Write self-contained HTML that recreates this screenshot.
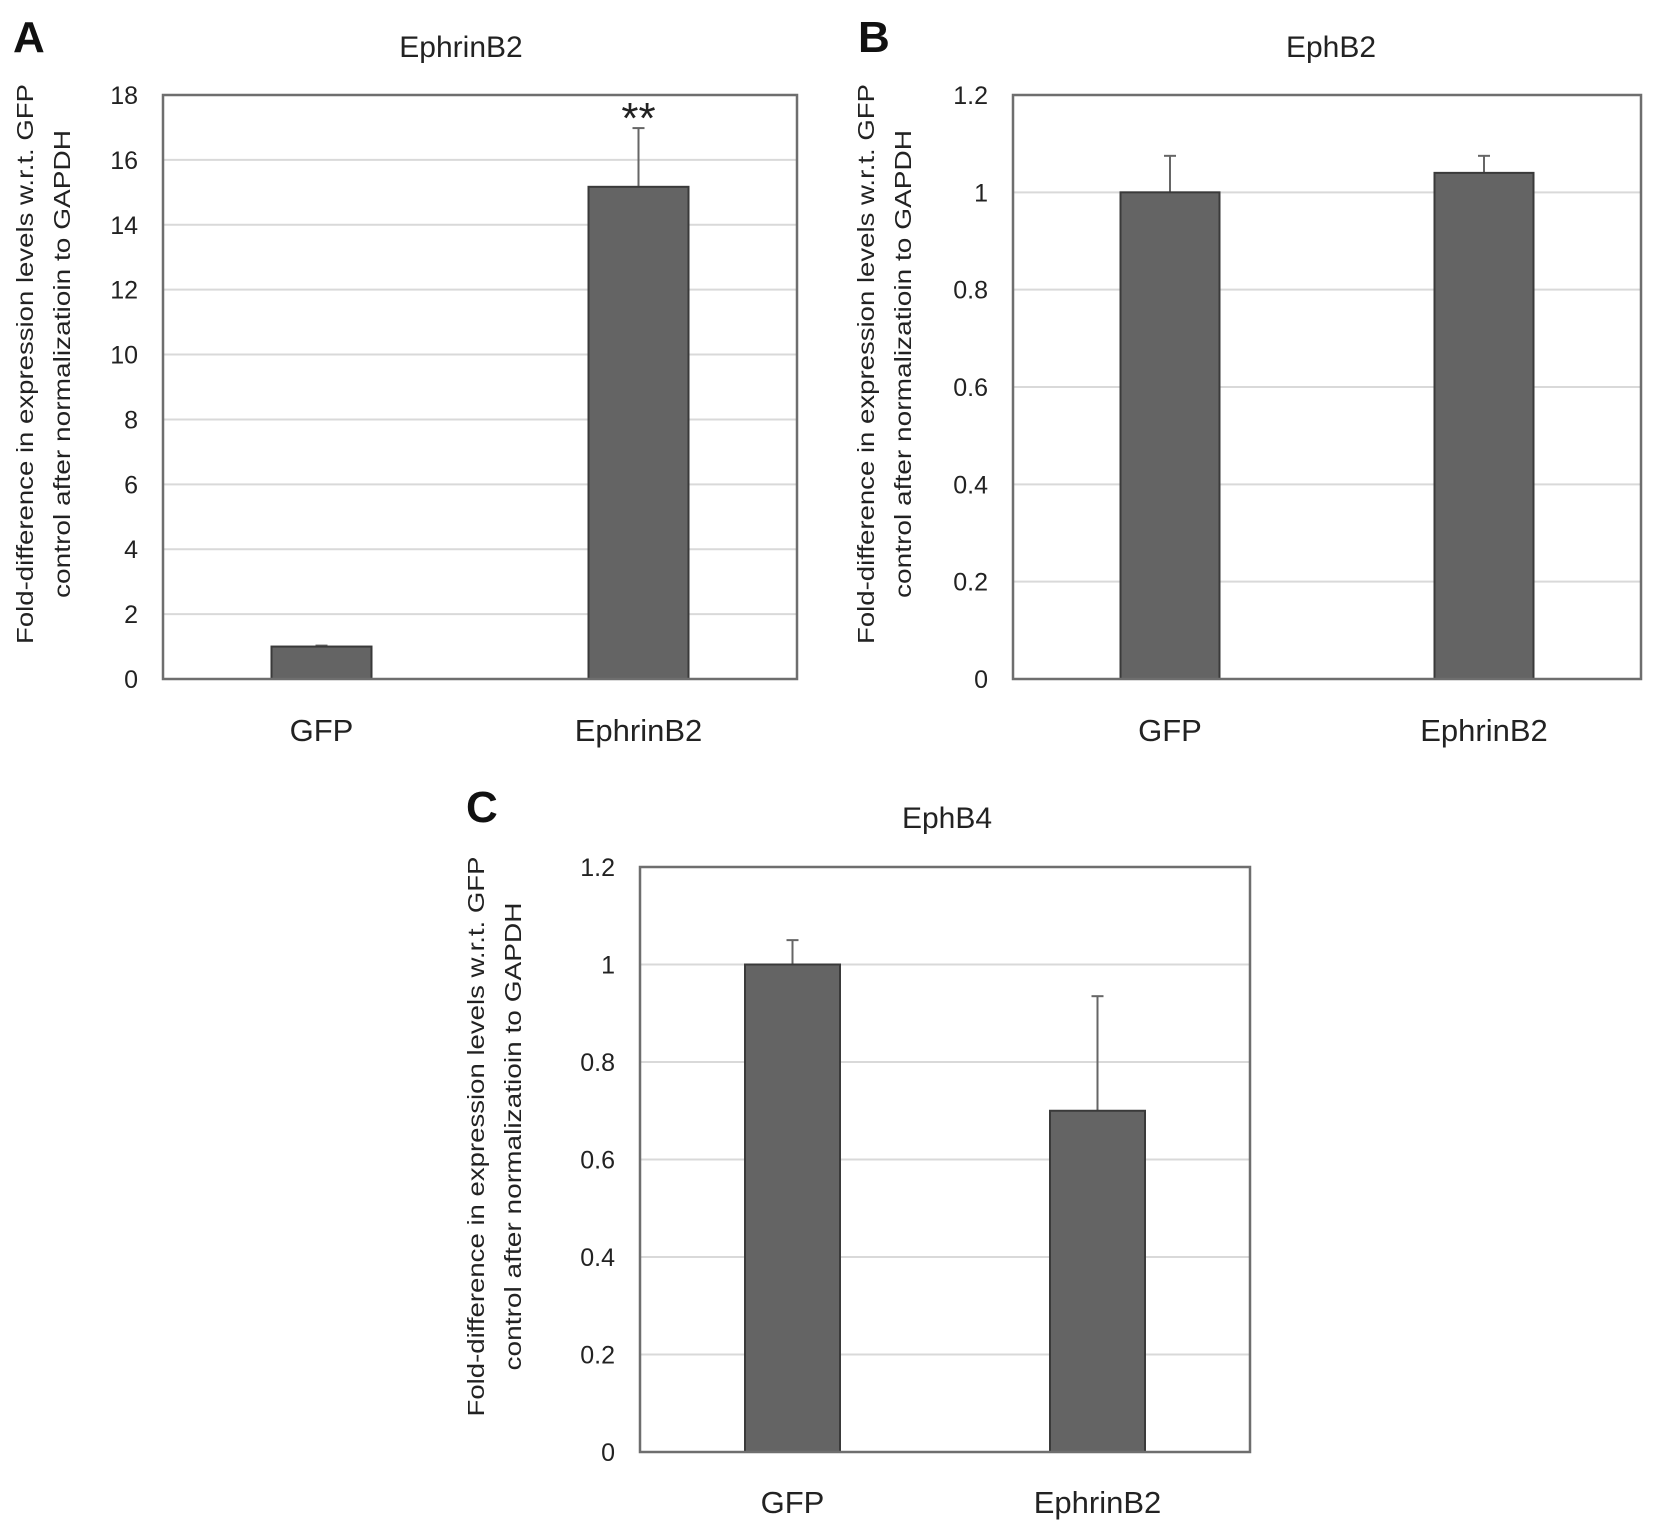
<!DOCTYPE html>
<html><head><meta charset="utf-8"><style>
html,body{margin:0;padding:0;background:#fff;}
svg{display:block;font-family:"Liberation Sans","DejaVu Sans",sans-serif;}
</style></head><body>
<svg id="fig" width="1654" height="1535" viewBox="0 0 1654 1535" xmlns="http://www.w3.org/2000/svg"></svg>
<script>
const categories = ["GFP", "EphrinB2"];
const valuesA = [1.0, 15.17];
const errorsA = [0.03, 1.81];
const ticksA = ["0","2","4","6","8","10","12","14","16","18"];
const valuesB = [1.0, 1.04];
const errorsB = [0.075, 0.035];
const ticksB = ["0","0.2","0.4","0.6","0.8","1","1.2"];
const valuesC = [1.0, 0.70];
const errorsC = [0.05, 0.235];
const ticksC = ["0","0.2","0.4","0.6","0.8","1","1.2"];

const NS = "http://www.w3.org/2000/svg";
const svg = document.getElementById("fig");
function mk(tag, attrs, parent){
  const e = document.createElementNS(NS, tag);
  for (const k in attrs) e.setAttribute(k, attrs[k]);
  (parent||svg).appendChild(e);
  return e;
}
function panel(cfg){
  const g = mk("g", {});
  
  
  const tmax = parseFloat(cfg.ticks[cfg.ticks.length-1]);
  const y = v => cfg.y1 - (v/tmax)*(cfg.y1-cfg.y0);
  const xc = i => cfg.x0 + (cfg.x1-cfg.x0)*(i+0.5)/categories.length;
  const bw = cfg.bw;
  cfg.ticks.forEach(t=>{
    const v = parseFloat(t), yy = y(v);
    if (v>0 && v<tmax){
      const gl = mk("line",{x1:cfg.x0,x2:cfg.x1,y1:yy,y2:yy,stroke:"#d9d9d9","stroke-width":2},g);
      
      
    }
    const tl = mk("text",{x:cfg.x0-25,y:yy+9,"text-anchor":"end","font-size":25,fill:"#222"},g);
    tl.textContent = t;
    
    
  });
  categories.forEach((c,i)=>{
    const v = cfg.values[i], e = cfg.errors[i];
    const el = mk("line",{x1:xc(i),x2:xc(i),y1:y(v),y2:y(v+e),stroke:"#666","stroke-width":2},g);
    
    
    const cap = mk("line",{x1:xc(i)-6,x2:xc(i)+6,y1:y(v+e),y2:y(v+e),stroke:"#666","stroke-width":2},g);
    
    
    const r = mk("rect",{x:xc(i)-bw/2,y:y(v),width:bw,height:y(0)-y(v),fill:"#646464",stroke:"#3a3a3a","stroke-width":2},g);
    
    
    const xl = mk("text",{x:xc(i),y:cfg.xly,"text-anchor":"middle","font-size":31,fill:"#222"},g);
    xl.textContent = c;
    
    
  });
  const fr = mk("rect",{x:cfg.x0,y:cfg.y0,width:cfg.x1-cfg.x0,height:cfg.y1-cfg.y0,fill:"none",stroke:"#6e6e6e","stroke-width":2.5},g);
  
  
  const ti = mk("text",{x:cfg.tx,y:cfg.ty,"text-anchor":"middle","font-size":30,fill:"#222"},g);
  ti.textContent = cfg.title;
  
  
  const lt = mk("text",{x:cfg.lx,y:cfg.ly,"font-size":44,"font-weight":"bold",fill:"#111"},g);
  lt.textContent = cfg.letter;
  
  
  const ycy = (cfg.y0+cfg.y1)/2 - 23;
  const yt = mk("text",{transform:`translate(${cfg.ylx},${ycy}) rotate(-90)`,"text-anchor":"middle","font-size":23,fill:"#222"},g);
  
  
  const t1 = mk("tspan",{x:0,y:0,textLength:560,lengthAdjust:"spacingAndGlyphs"},yt); t1.textContent="Fold-difference in expression levels w.r.t. GFP";
  const t2 = mk("tspan",{x:0,y:37,textLength:468,lengthAdjust:"spacingAndGlyphs"},yt); t2.textContent="control after normalizatioin to GAPDH";
  return {g,y,xc};
}
const A = panel({name:"panel-a",letter:"A",lx:13,ly:52,title:"EphrinB2",tx:461,ty:57,x0:163,x1:797,y0:95,y1:679,bw:100,values:valuesA,errors:errorsA,ticks:ticksA,xly:741,ylx:33});
const st = mk("text",{x:A.xc(1),y:A.y(valuesA[1]+errorsA[1])+5,"text-anchor":"middle","font-size":44,fill:"#222"},A.g);
st.textContent="**";


panel({name:"panel-b",letter:"B",lx:858,ly:52,title:"EphB2",tx:1331,ty:57,x0:1013,x1:1641,y0:95,y1:679,bw:99,values:valuesB,errors:errorsB,ticks:ticksB,xly:741,ylx:874});
panel({name:"panel-c",letter:"C",lx:466,ly:822,title:"EphB4",tx:947,ty:828,x0:640,x1:1250,y0:867,y1:1452,bw:95,values:valuesC,errors:errorsC,ticks:ticksC,xly:1513,ylx:484});
</script>
</body></html>
